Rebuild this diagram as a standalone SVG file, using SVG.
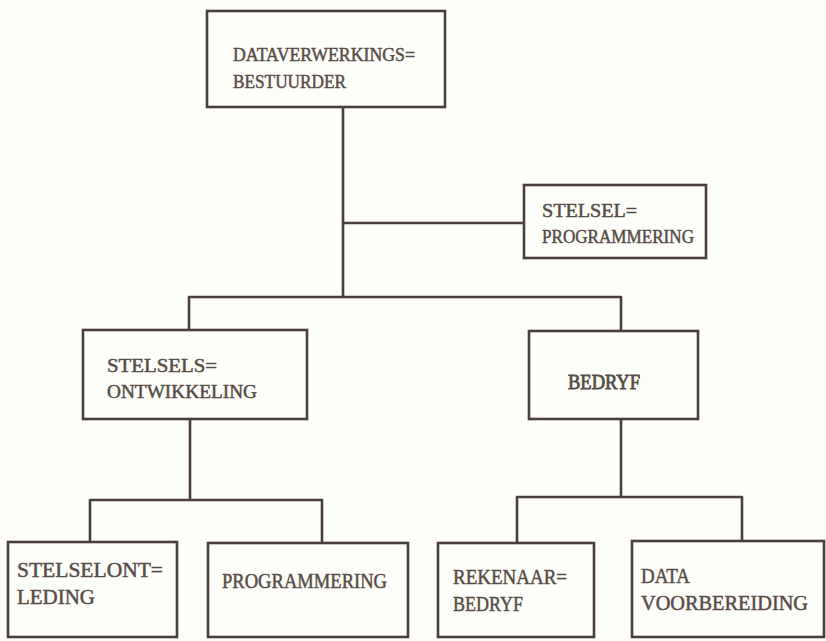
<svg xmlns="http://www.w3.org/2000/svg" width="826" height="641" viewBox="0 0 826 641">
<style>
.box{fill:none;stroke:#4a4039;stroke-width:2.6}
.ln{fill:none;stroke:#4a4039;stroke-width:2.6;stroke-linejoin:round}
.t{font-family:"Liberation Serif","DejaVu Serif",serif;fill:#564c44;stroke:#564c44;stroke-width:0.45}
.s{font-size:18px}
.l{font-size:20px}
</style>
<rect width="826" height="641" fill="#fdfdfa"/>
<g id="connectors">
<path class="ln" d="M343,107 V297"/>
<path class="ln" d="M343,223 H524"/>
<path class="ln" d="M189,330 V297 H621 V331"/>
<path class="ln" d="M190,419 V500"/>
<path class="ln" d="M90,542 V500 H322 V543"/>
<path class="ln" d="M621,419 V497"/>
<path class="ln" d="M517,543 V497 H742 V541"/>
</g>
<g id="n-dataverwerkings">
<rect class="box" x="207" y="11" width="238" height="96"/>
<text class="t s" x="233" y="61" textLength="182" lengthAdjust="spacingAndGlyphs">DATAVERWERKINGS=</text>
<text class="t s" x="233" y="88" textLength="113" lengthAdjust="spacingAndGlyphs">BESTUURDER</text>
</g>
<g id="n-stelselprogrammering">
<rect class="box" x="524" y="185" width="182" height="73"/>
<text class="t s" x="542" y="217" textLength="95" lengthAdjust="spacingAndGlyphs">STELSEL=</text>
<text class="t s" x="542" y="243" textLength="152" lengthAdjust="spacingAndGlyphs">PROGRAMMERING</text>
</g>
<g id="n-stelselsontwikkeling">
<rect class="box" x="83" y="330" width="224" height="89"/>
<text class="t s" x="107" y="372" textLength="110" lengthAdjust="spacingAndGlyphs">STELSELS=</text>
<text class="t s" x="107" y="398" textLength="150" lengthAdjust="spacingAndGlyphs">ONTWIKKELING</text>
</g>
<g id="n-bedryf">
<rect class="box" x="529" y="331" width="169" height="88"/>
<text class="t" x="568" y="389" style="font-size:20px;stroke-width:0.8" textLength="72" lengthAdjust="spacingAndGlyphs">BEDRYF</text>
</g>
<g id="n-stelselontleding">
<rect class="box" x="8" y="542" width="169" height="95"/>
<text class="t l" x="17" y="577" textLength="146" lengthAdjust="spacingAndGlyphs">STELSELONT=</text>
<text class="t l" x="17" y="604" textLength="78" lengthAdjust="spacingAndGlyphs">LEDING</text>
</g>
<g id="n-programmering">
<rect class="box" x="208" y="543" width="200" height="94"/>
<text class="t l" x="222" y="588" textLength="165" lengthAdjust="spacingAndGlyphs">PROGRAMMERING</text>
</g>
<g id="n-rekenaarbedryf">
<rect class="box" x="438" y="543" width="156" height="94"/>
<text class="t l" x="453" y="584" textLength="114" lengthAdjust="spacingAndGlyphs">REKENAAR=</text>
<text class="t l" x="453" y="611" textLength="70" lengthAdjust="spacingAndGlyphs">BEDRYF</text>
</g>
<g id="n-datavoorbereiding">
<rect class="box" x="632" y="541" width="192" height="96"/>
<text class="t l" x="641" y="583" textLength="49" lengthAdjust="spacingAndGlyphs">DATA</text>
<text class="t l" x="641" y="610" textLength="167" lengthAdjust="spacingAndGlyphs">VOORBEREIDING</text>
</g>
</svg>
